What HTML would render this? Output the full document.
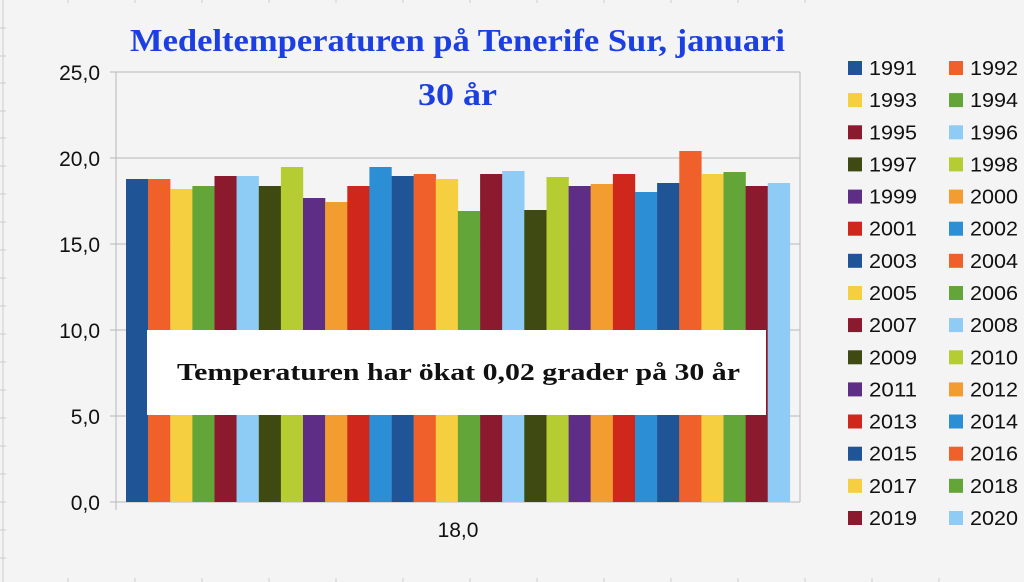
<!DOCTYPE html><html><head><meta charset="utf-8"><style>
body{margin:0;background:#f4f4f4;}
</style></head><body>
<svg width="1024" height="582" xmlns="http://www.w3.org/2000/svg" style="display:block">
<rect width="1024" height="582" fill="#f4f4f4"/>
<line x1="3" y1="0" x2="3" y2="582" stroke="#ccc"/>
<g stroke="#ccc">
<line x1="0" y1="28" x2="6" y2="28"/><line x1="0" y1="56" x2="6" y2="56"/><line x1="0" y1="83" x2="6" y2="83"/><line x1="0" y1="111" x2="6" y2="111"/><line x1="0" y1="138" x2="6" y2="138"/><line x1="0" y1="166" x2="6" y2="166"/><line x1="0" y1="194" x2="6" y2="194"/><line x1="0" y1="222" x2="6" y2="222"/><line x1="0" y1="250" x2="6" y2="250"/><line x1="0" y1="278" x2="6" y2="278"/><line x1="0" y1="306" x2="6" y2="306"/><line x1="0" y1="334" x2="6" y2="334"/><line x1="0" y1="362" x2="6" y2="362"/><line x1="0" y1="390" x2="6" y2="390"/><line x1="0" y1="418" x2="6" y2="418"/><line x1="0" y1="446" x2="6" y2="446"/><line x1="0" y1="474" x2="6" y2="474"/><line x1="0" y1="502" x2="6" y2="502"/><line x1="0" y1="530" x2="6" y2="530"/><line x1="0" y1="558" x2="6" y2="558"/>
<line x1="68" y1="578" x2="68" y2="582"/><line x1="135" y1="578" x2="135" y2="582"/><line x1="202" y1="578" x2="202" y2="582"/><line x1="269" y1="578" x2="269" y2="582"/><line x1="336" y1="578" x2="336" y2="582"/><line x1="403" y1="578" x2="403" y2="582"/><line x1="470" y1="578" x2="470" y2="582"/><line x1="537" y1="578" x2="537" y2="582"/><line x1="604" y1="578" x2="604" y2="582"/><line x1="671" y1="578" x2="671" y2="582"/><line x1="738" y1="578" x2="738" y2="582"/><line x1="805" y1="578" x2="805" y2="582"/><line x1="872" y1="578" x2="872" y2="582"/><line x1="939" y1="578" x2="939" y2="582"/>
<line x1="68" y1="0" x2="68" y2="3"/><line x1="135" y1="0" x2="135" y2="3"/><line x1="202" y1="0" x2="202" y2="3"/><line x1="269" y1="0" x2="269" y2="3"/><line x1="336" y1="0" x2="336" y2="3"/><line x1="403" y1="0" x2="403" y2="3"/><line x1="470" y1="0" x2="470" y2="3"/><line x1="537" y1="0" x2="537" y2="3"/><line x1="604" y1="0" x2="604" y2="3"/><line x1="671" y1="0" x2="671" y2="3"/><line x1="738" y1="0" x2="738" y2="3"/><line x1="805" y1="0" x2="805" y2="3"/>
</g>
<g stroke="#b8b8b8" stroke-width="1">
<line x1="110" y1="72" x2="800" y2="72"/><line x1="110" y1="158" x2="800" y2="158"/><line x1="110" y1="244" x2="800" y2="244"/><line x1="110" y1="330" x2="800" y2="330"/><line x1="110" y1="416" x2="800" y2="416"/><line x1="110" y1="502" x2="800" y2="502"/>
<line x1="116" y1="72" x2="116" y2="510"/><line x1="800" y1="72" x2="800" y2="502"/>
</g>
<g font-family="Liberation Sans, sans-serif" font-size="21" fill="#111" text-anchor="end">
<text x="100" y="80">25,0</text><text x="100" y="166">20,0</text><text x="100" y="252">15,0</text><text x="100" y="338">10,0</text><text x="100" y="424">5,0</text><text x="100" y="510">0,0</text>
<text x="458" y="537" text-anchor="middle">18,0</text>
</g>
<g id="bars"></g>
<rect x="147" y="330" width="619" height="85" fill="#fff"/>
<text x="177" y="380" textLength="563" lengthAdjust="spacingAndGlyphs" font-family="Liberation Serif, serif" font-weight="bold" font-size="24" fill="#111">Temperaturen har ökat 0,02 grader på 30 år</text>
<g font-family="Liberation Serif, serif" font-weight="bold" fill="#1b3fe0" font-size="32">
<text x="130" y="51" textLength="655" lengthAdjust="spacingAndGlyphs">Medeltemperaturen på Tenerife Sur, januari</text>
<text x="418" y="105" textLength="79" lengthAdjust="spacingAndGlyphs">30 år</text>
</g>
<g id="leg" font-family="Liberation Sans, sans-serif" font-size="20" fill="#111"></g>
</svg>
<script>
var cols=["#1f5597","#f0602a","#f5cf3f","#63a538","#8b1a2e","#8ecbf5","#3f4a12","#b5cc33","#5e2d86","#f39c30","#d0271d","#2c8fd6"];
var tops=[179,179,189,186,176,176,186,167,198,202,186,167,176,174,179,211,174,171,210,177,186,184,174,192,183,151,174,172,186,183];
var ns="http://www.w3.org/2000/svg",b=document.getElementById("bars"),l=document.getElementById("leg");
for(var i=0;i<30;i++){var r=document.createElementNS(ns,"rect");var x=126+i*22.13;r.setAttribute("x",x.toFixed(1));r.setAttribute("y",tops[i]);r.setAttribute("width","22.3");r.setAttribute("height",502-tops[i]);r.setAttribute("fill",cols[i%12]);b.appendChild(r);
var row=Math.floor(i/2),c=i%2;var y=68+row*32.14;var s=document.createElementNS(ns,"rect");s.setAttribute("x",c?949:848);s.setAttribute("y",(y-7).toFixed(1));s.setAttribute("width",14);s.setAttribute("height",14);s.setAttribute("fill",cols[i%12]);l.appendChild(s);
var t=document.createElementNS(ns,"text");t.setAttribute("x",c?970:869);t.setAttribute("y",(y+7).toFixed(1));t.setAttribute("textLength","48");t.setAttribute("lengthAdjust","spacingAndGlyphs");t.textContent=1991+i;l.appendChild(t);}
</script>
</body></html>
